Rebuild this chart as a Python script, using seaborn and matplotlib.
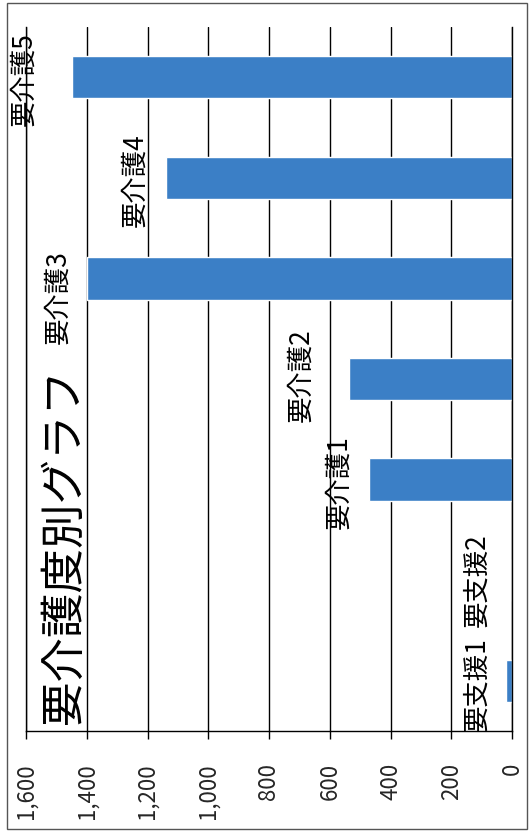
import matplotlib
matplotlib.use("Agg")
import matplotlib.pyplot as plt
import seaborn as sns
import pandas as pd
from matplotlib.patches import Rectangle

# ── Data (people per care level) ──
categories = ["要支援1", "要支援2", "要介護1", "要介護2", "要介護3", "要介護4", "要介護5"]
values = [20, 0, 471, 535, 1398, 1140, 1447]
ticks = [0, 200, 400, 600, 800, 1000, 1200, 1400, 1600]
title = "要介護度別グラフ"

# where each category label's end sits on the value axis (hand-placed in the original)
label_at = [72, 72, 527, 649, 1450, 1196, 1562]
label_shift = [0.03, 0.0, 0.02, -0.04, 0.19, 0.02, 0.02]

BAR_COLOR = "#3b7fc6"

sns.set_theme(style="white")
plt.rcParams["font.family"] = ["Noto Sans CJK JP", "DejaVu Sans"]

df = pd.DataFrame({"level": categories, "count": values})
order = categories[::-1]  # 要介護5 on top

fig = plt.figure(figsize=(5.31, 8.32), dpi=100)
ax = fig.add_axes([26 / 531, 101 / 832, 486 / 531, 704 / 832])

sns.barplot(data=df, x="count", y="level", order=order, orient="h",
            color=BAR_COLOR, saturation=1, width=0.42, ax=ax)

ax.set_xlim(1600, 0)
ax.set_xticks(ticks)
ax.set_xticklabels([f"{t:,}" for t in ticks])
ax.set_yticks([])
ax.set_xlabel("")
ax.set_ylabel("")
ax.set_axisbelow(True)
ax.grid(axis="x", color="black", linewidth=1)
ax.grid(axis="y", visible=False)
ax.tick_params(axis="x", direction="out", length=6, width=1, color="black",
               labelrotation=90, labelsize=16, pad=17, bottom=True)
for side in ["left", "right", "bottom"]:
    ax.spines[side].set_color("black")
    ax.spines[side].set_linewidth(1)
ax.spines["top"].set_visible(False)

# category names written beside the bars, rotated like the whole sheet
for name, lx, dy in zip(categories, label_at, label_shift):
    ax.text(lx, order.index(name) + dy, name, rotation=90, ha="right",
            va="center", fontsize=19, color="black")

fig.text(87 / 531, 108 / 832, title, rotation=90, ha="right", va="bottom",
         fontsize=32, color="black")

# outer chart frame
fig.patches.append(Rectangle((7 / 531, 3 / 832), 520 / 531, 826 / 832,
                             transform=fig.transFigure, fill=False,
                             edgecolor="#555555", linewidth=1))

fig.savefig("out.png", dpi=100)
